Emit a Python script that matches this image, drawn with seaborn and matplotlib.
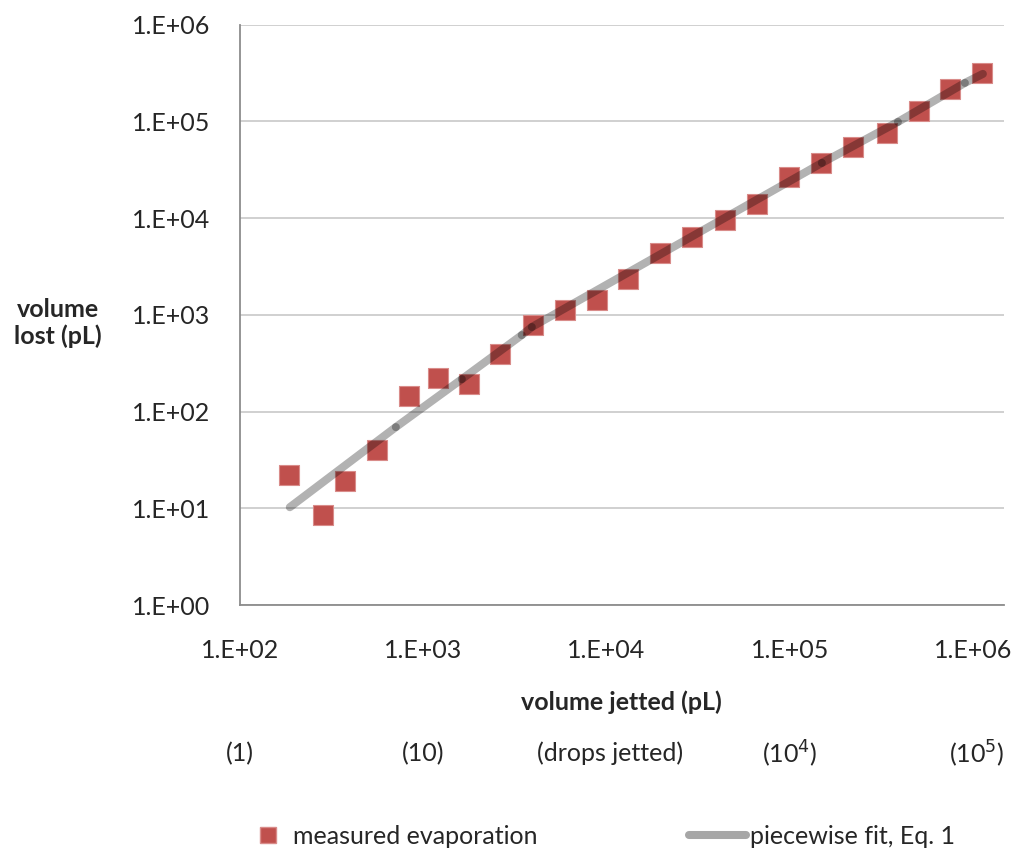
import numpy as np
import pandas as pd
import seaborn as sns
import matplotlib.pyplot as plt
from matplotlib.ticker import LogLocator, FuncFormatter, NullFormatter
from matplotlib.lines import Line2D

""" 0. data read off the chart """
# measured evaporation, volume jetted vs volume lost (pL)
jetted_pl = [185, 284, 374, 558, 836, 1203, 1775, 2620, 3963, 5930, 8870, 13100,
             19550, 29250, 44300, 66200, 98900, 147900, 221000, 338700, 506000,
             747000, 1117000]
lost_pl = [22.1, 8.5, 19.1, 40.1, 145, 222, 193, 394, 787, 1125, 1426, 2350,
           4365, 6400, 9570, 14030, 26700, 37200, 54450, 76000, 128500,
           216800, 317700]

# piecewise fit, Eq. 1 (segment end points)
fit_x = [187.5, 710, 1626, 3451, 3917, 149600, 389000, 901600, 1130000]
fit_y = [10.3, 69.3, 217, 619, 750, 37240, 98860, 250000, 309700]

# drop-count annotations under the x axis
drop_pos = [1e2, 1e3, 1.05e4, 1e5, 1.05e6]
drop_text = ["(1)", "(10)", "(drops jetted)", "(10$^4$)", "(10$^5$)"]

meas_df = pd.DataFrame({'jetted': jetted_pl, 'lost': lost_pl})

""" 1. plot """
sns.set_style("white")
plt.rcParams['font.family'] = ['Lato', 'DejaVu Sans']
red = '#c0504d'
fs = 18

fig = plt.figure(figsize=(10.16, 8.5), dpi=100)
ax = fig.add_axes([0.236, 0.288, 0.752, 0.683])
ax.set_xscale('log')
ax.set_yscale('log')

g = sns.scatterplot(x='jetted', y='lost', data=meas_df, marker='s', s=190,
                    color=red, edgecolor='#d98c8a', linewidth=0.8, ax=ax, zorder=3)

# fit drawn segment by segment so the overlapping caps show like the original
for i in range(len(fit_x) - 1):
    ax.plot(fit_x[i:i + 2], fit_y[i:i + 2], color='black', alpha=0.3,
            lw=5.8, solid_capstyle='round', zorder=4)

ax.set_xlim(1e2, 1.47e6)
ax.set_ylim(1, 1e6)

fmt = FuncFormatter(lambda v, p: "1.E+%02d" % int(round(np.log10(v))))
for axis in [ax.xaxis, ax.yaxis]:
    axis.set_major_locator(LogLocator(base=10, numticks=20))
    axis.set_minor_locator(LogLocator(base=10, subs=np.arange(2, 10), numticks=20))
    axis.set_major_formatter(fmt)
    axis.set_minor_formatter(NullFormatter())

ax.grid(axis='y', which='major', color='#c4c4c4', lw=1.1)
ax.set_axisbelow(True)
for s in ['top', 'right']:
    ax.spines[s].set_visible(False)
for s in ['left', 'bottom']:
    ax.spines[s].set_color('#8c8c8c')
    ax.spines[s].set_linewidth(1.3)

ax.tick_params(axis='x', which='major', direction='inout', length=13, width=1.3,
               color='#8c8c8c', pad=18, labelsize=fs)
ax.tick_params(axis='x', which='minor', direction='out', length=4, width=1.1,
               color='#8c8c8c')
ax.tick_params(axis='y', which='major', direction='out', length=7, width=1.3,
               color='#8c8c8c', pad=14, labelsize=fs)
ax.tick_params(axis='y', which='minor', direction='out', length=5, width=1.1,
               color='#8c8c8c')

ax.set_xlabel("volume jetted (pL)", fontsize=fs, fontweight='bold', labelpad=20)
ax.set_ylabel("")
fig.text(0.057, 0.62, "volume\nlost (pL)", fontsize=fs, fontweight='bold',
         ha='center', va='center', linespacing=1.2)

for xp, t in zip(drop_pos, drop_text):
    ax.text(xp, -0.255, t, transform=ax.get_xaxis_transform(), fontsize=fs,
            ha='center', va='center')

h1 = Line2D([], [], marker='s', ls='none', color=red, markersize=11,
            markeredgecolor='#d98c8a')
h2 = Line2D([], [], color='#a6a6a6', lw=5.8, solid_capstyle='round')
leg1 = fig.legend([h1], ["measured evaporation"], loc='center left',
                  bbox_to_anchor=(0.229, 0.016), frameon=False, fontsize=fs,
                  handlelength=1.0, handletextpad=0.5)
leg2 = fig.legend([h2], ["piecewise fit, Eq. 1"], loc='center left',
                  bbox_to_anchor=(0.656, 0.016), frameon=False, fontsize=fs,
                  handlelength=2.3, handletextpad=0.15)

plt.savefig("out.png", dpi=100)
